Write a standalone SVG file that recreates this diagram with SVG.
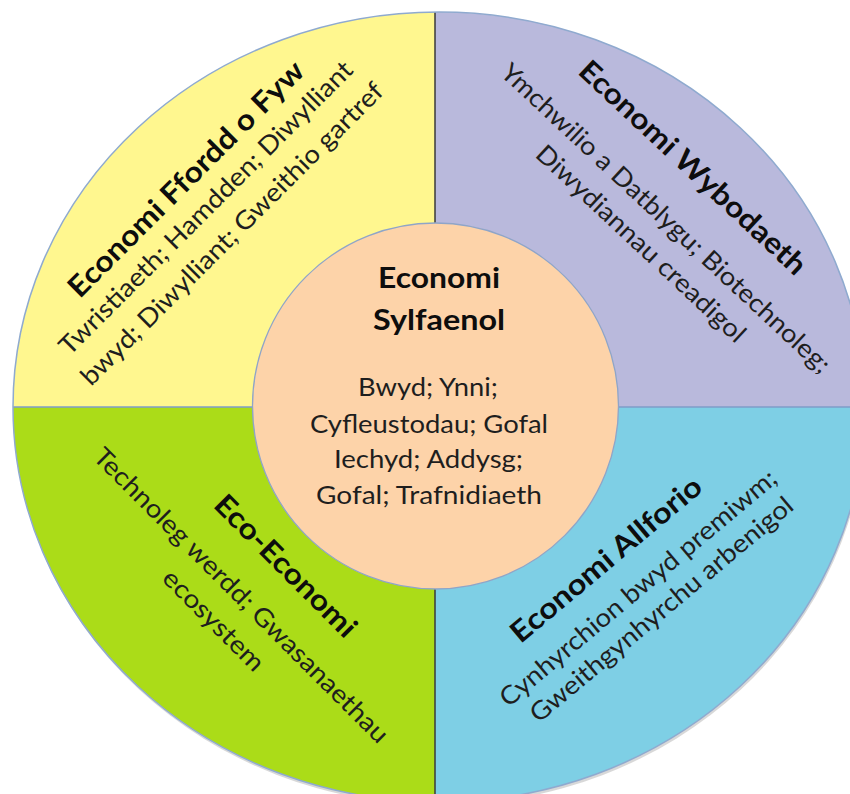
<svg xmlns="http://www.w3.org/2000/svg" width="850" height="794" viewBox="0 0 850 794">
<defs>
<clipPath id="oval"><ellipse cx="439" cy="407" rx="426" ry="395"/></clipPath>
</defs>
<style>
.t{font-family:Lato,"Open Sans","Liberation Sans",sans-serif;font-size:25.5px;fill:#1e1e1e;text-anchor:middle}
.b{font-weight:700;font-size:29px;fill:#0d0d0d}
</style>
<rect width="850" height="794" fill="#ffffff"/>
<ellipse cx="440" cy="410" rx="426" ry="395" fill="#c8c8c8" opacity="0.7"/>
<g id="node-ffordd-o-fyw">
<rect x="0" y="0" width="435" height="407" fill="#FFF78F" clip-path="url(#oval)"/>
<text class="t b" transform="translate(193,186) rotate(-45)" textLength="320" lengthAdjust="spacingAndGlyphs">Economi Ffordd o Fyw</text>
<text class="t" transform="translate(212,214) rotate(-45)" textLength="403" lengthAdjust="spacingAndGlyphs">Twristiaeth; Hamdden; Diwylliant</text>
<text class="t" transform="translate(238,240) rotate(-45)" textLength="416" lengthAdjust="spacingAndGlyphs">bwyd; Diwylliant; Gweithio gartref</text>
</g>
<g id="node-wybodaeth">
<rect x="435" y="0" width="440" height="407" fill="#B9B9DC" clip-path="url(#oval)"/>
<text class="t b" transform="translate(686,175) rotate(43)" textLength="299" lengthAdjust="spacingAndGlyphs">Economi Wybodaeth</text>
<text class="t" transform="translate(660,224.5) rotate(43)" textLength="440" lengthAdjust="spacingAndGlyphs">Ymchwilio a Datblygu; Biotechnoleg;</text>
<text class="t" transform="translate(635,250) rotate(43)" textLength="276" lengthAdjust="spacingAndGlyphs">Diwydiannau creadigol</text>
</g>
<g id="node-eco-economi">
<rect x="0" y="407" width="435" height="400" fill="#ABDC18" clip-path="url(#oval)"/>
<text class="t b" transform="translate(278.6,573) rotate(45)" textLength="188" lengthAdjust="spacingAndGlyphs">Eco-Economi</text>
<text class="t" transform="translate(235,601.5) rotate(45)" textLength="405" lengthAdjust="spacingAndGlyphs">Technoleg werdd; Gwasanaethau</text>
<text class="t" transform="translate(207.5,626.5) rotate(45)" textLength="132" lengthAdjust="spacingAndGlyphs">ecosystem</text>
</g>
<g id="node-allforio">
<rect x="435" y="407" width="440" height="400" fill="#7ECFE5" clip-path="url(#oval)"/>
<text class="t b" transform="translate(612.5,567) rotate(-40)" textLength="240" lengthAdjust="spacingAndGlyphs">Economi Allforio</text>
<text class="t" transform="translate(643.7,594.6) rotate(-40)" textLength="353" lengthAdjust="spacingAndGlyphs">Cynhyrchion bwyd premiwm;</text>
<text class="t" transform="translate(667,616.2) rotate(-40)" textLength="335" lengthAdjust="spacingAndGlyphs">Gweithgynhyrchu arbenigol</text>
</g>
<g id="connectors">
<line x1="435" y1="12" x2="435" y2="802" stroke="#3a3a3a" stroke-width="1.5" clip-path="url(#oval)"/>
<line x1="13" y1="407" x2="865" y2="407" stroke="#7f9cc8" stroke-width="1.5" clip-path="url(#oval)"/>
</g>
<ellipse cx="439" cy="407" rx="426" ry="395" fill="none" stroke="#8faacf" stroke-width="1.5"/>
<g id="node-sylfaenol">
<circle cx="435.5" cy="406" r="183" fill="#FDD3A9" stroke="#8fa5c8" stroke-width="1.3"/>
<text class="t b" x="439" y="288" textLength="122" lengthAdjust="spacingAndGlyphs">Economi</text>
<text class="t b" x="439" y="330" textLength="132" lengthAdjust="spacingAndGlyphs">Sylfaenol</text>
<text class="t" x="428" y="396" textLength="140" lengthAdjust="spacingAndGlyphs">Bwyd; Ynni;</text>
<text class="t" x="429" y="432.5" textLength="238" lengthAdjust="spacingAndGlyphs">Cyfleustodau; Gofal</text>
<text class="t" x="428.5" y="468" textLength="189" lengthAdjust="spacingAndGlyphs">Iechyd; Addysg;</text>
<text class="t" x="429" y="503.5" textLength="226" lengthAdjust="spacingAndGlyphs">Gofal; Trafnidiaeth</text>
</g>
</svg>
